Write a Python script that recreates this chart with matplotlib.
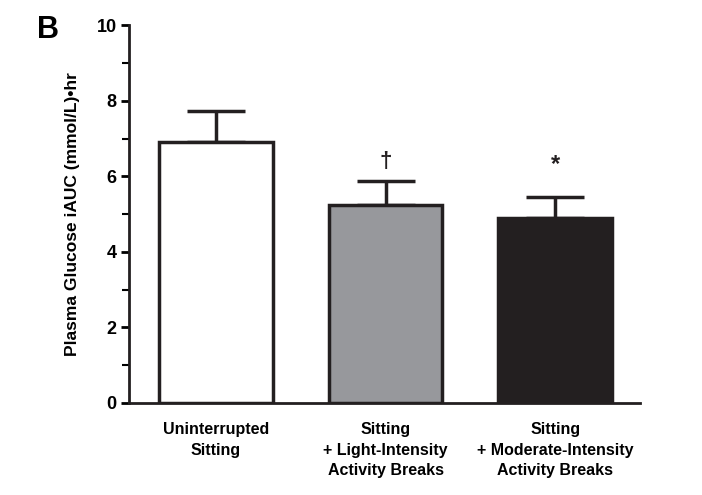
import matplotlib
matplotlib.use("Agg")
import matplotlib.pyplot as plt
from matplotlib.ticker import MultipleLocator

categories = ["Uninterrupted\nSitting",
              "Sitting\n+ Light-Intensity\nActivity Breaks",
              "Sitting\n+ Moderate-Intensity\nActivity Breaks"]
means = [6.91, 5.24, 4.89]
errors = [0.81, 0.63, 0.55]
markers = ["", "\u2020", "*"]
marker_y = [0, 6.4, 6.3]
colors = ["#ffffff", "#97989c", "#231f20"]

plt.rcParams['font.family'] = ['Liberation Sans', 'DejaVu Sans']
plt.rcParams['font.weight'] = 'bold'

fig = plt.figure(figsize=(7.02, 4.95), dpi=100)
ax = fig.add_axes([0.184, 0.186, 0.728, 0.763])

x = list(range(len(categories)))
ax.bar(x, means, width=0.67, color=colors, edgecolor="#231f20", linewidth=2.5, zorder=2)
ax.errorbar(x, means, yerr=[[0]*3, errors], fmt='none', ecolor="#231f20",
            elinewidth=2.5, capsize=21, capthick=2.5, zorder=1)
for xi, m, my in zip(x, markers, marker_y):
    if m:
        ax.text(xi, my, m, ha='center', va='center', fontsize=17 if m == "*" else 16,
                fontweight='bold', color="#231f20")

ax.set_xlim(-0.51, 2.5)
ax.set_ylim(0, 10)
ax.yaxis.set_major_locator(MultipleLocator(2))
ax.yaxis.set_minor_locator(MultipleLocator(1))
ax.set_xticks(x)
ax.set_xticklabels(categories, fontsize=11.5, fontweight='bold', linespacing=1.45)
ax.tick_params(axis='x', length=0, pad=14)
ax.tick_params(axis='y', which='major', length=6, width=2, labelsize=13, direction='out', pad=3)
ax.tick_params(axis='y', which='minor', length=5, width=1.5, direction='out')
for lab in ax.get_yticklabels():
    lab.set_fontweight('bold')
for s in ['top', 'right']:
    ax.spines[s].set_visible(False)
for s in ['left', 'bottom']:
    ax.spines[s].set_linewidth(2)
    ax.spines[s].set_color("#231f20")
ax.set_ylabel("Plasma Glucose iAUC (mmol/L)\u2022hr", fontsize=12.5, fontweight='bold', labelpad=12)
fig.text(0.052, 0.94, "B", fontsize=22, fontweight='bold', ha='left', va='center')

fig.savefig("out.png", dpi=100)
